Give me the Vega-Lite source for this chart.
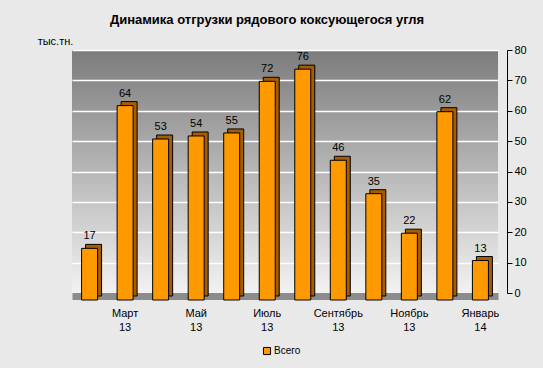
{
  "$schema": "https://vega.github.io/schema/vega-lite/v6.json",
  "autosize": "none",
  "width": 426,
  "height": 243,
  "padding": {"left": 72, "top": 50, "right": 45, "bottom": 75},
  "background": "#e9e9e9",
  "title": {
    "text": "Динамика отгрузки рядового коксующегося угля",
    "font": "Liberation Sans",
    "fontSize": 13,
    "fontWeight": "bold",
    "color": "#000000",
    "anchor": "middle",
    "dx": -18,
    "offset": 8
  },
  "data": {
    "values": [
      {"month": "Февраль 13", "value": 17, "series": "Всего"},
      {"month": "Март 13", "value": 64, "series": "Всего"},
      {"month": "Апрель 13", "value": 53, "series": "Всего"},
      {"month": "Май 13", "value": 54, "series": "Всего"},
      {"month": "Июнь 13", "value": 55, "series": "Всего"},
      {"month": "Июль 13", "value": 72, "series": "Всего"},
      {"month": "Август 13", "value": 76, "series": "Всего"},
      {"month": "Сентябрь 13", "value": 46, "series": "Всего"},
      {"month": "Октябрь 13", "value": 35, "series": "Всего"},
      {"month": "Ноябрь 13", "value": 22, "series": "Всего"},
      {"month": "Декабрь 13", "value": 62, "series": "Всего"},
      {"month": "Январь 14", "value": 13, "series": "Всего"}
    ]
  },
  "encoding": {
    "x": {
      "field": "month",
      "type": "nominal",
      "sort": null,
      "scale": {"paddingInner": 0.55, "paddingOuter": 0.27},
      "axis": {
        "title": null,
        "labelAngle": 0,
        "labelExpr": "indexof(['Март 13','Май 13','Июль 13','Сентябрь 13','Ноябрь 13','Январь 14'], datum.value) >= 0 ? split(datum.value, ' ') : ''",
        "labelFont": "Liberation Sans",
        "labelFontSize": 11,
        "labelColor": "#000000",
        "labelPadding": 11,
        "labelOverlap": false,
        "labelLineHeight": 14,
        "ticks": false,
        "domainColor": "#8c8c8c",
        "domainWidth": 7,
        "domainCap": "butt",
        "offset": 3,
        "grid": false
      }
    },
    "y": {
      "field": "value",
      "type": "quantitative",
      "scale": {"domain": [0, 80], "nice": false},
      "axis": {
        "orient": "right",
        "values": [0, 10, 20, 30, 40, 50, 60, 70, 80],
        "offset": 9,
        "title": "тыс.тн.",
        "titleAngle": 0,
        "titleFont": "Liberation Sans",
        "titleFontSize": 11,
        "titleFontWeight": "normal",
        "titleColor": "#000000",
        "titleX": -452,
        "titleY": -4,
        "titleAlign": "center",
        "labelFont": "Liberation Sans",
        "labelFontSize": 11,
        "labelColor": "#000000",
        "domainColor": "#000000",
        "tickColor": "#000000",
        "tickSize": 5,
        "grid": true,
        "gridColor": "#ffffff",
        "gridWidth": 1.5
      }
    }
  },
  "layer": [
    {
      "mark": {"type": "bar", "color": "#a65c00", "stroke": "#000000", "strokeWidth": 1, "xOffset": 4, "yOffset": 3},
      "encoding": {}
    },
    {
      "mark": {"type": "bar", "stroke": "#000000", "strokeWidth": 1, "yOffset": 7},
      "encoding": {
        "color": {
          "field": "series",
          "type": "nominal",
          "scale": {"range": ["#ff9900"]},
          "legend": {
            "orient": "none",
            "legendX": 190,
            "legendY": 296,
            "title": null,
            "symbolType": "square",
            "symbolSize": 50,
            "symbolStrokeColor": "#000000",
            "symbolStrokeWidth": 1,
            "labelFont": "Liberation Sans",
            "labelFontSize": 10,
            "labelColor": "#000000",
            "labelOffset": 2,
            "columnPadding": 0
          }
        }
      }
    },
    {
      "mark": {"type": "text", "dy": -5, "font": "Liberation Sans", "fontSize": 11, "color": "#000000"},
      "encoding": {"text": {"field": "value", "type": "quantitative"}}
    }
  ],
  "config": {
    "view": {
      "stroke": null,
      "fill": {"gradient": "linear", "x1": 0, "y1": 0, "x2": 0, "y2": 1, "stops": [{"offset": 0, "color": "#7c7c7c"}, {"offset": 1, "color": "#f2f2f2"}]}
    }
  }
}
